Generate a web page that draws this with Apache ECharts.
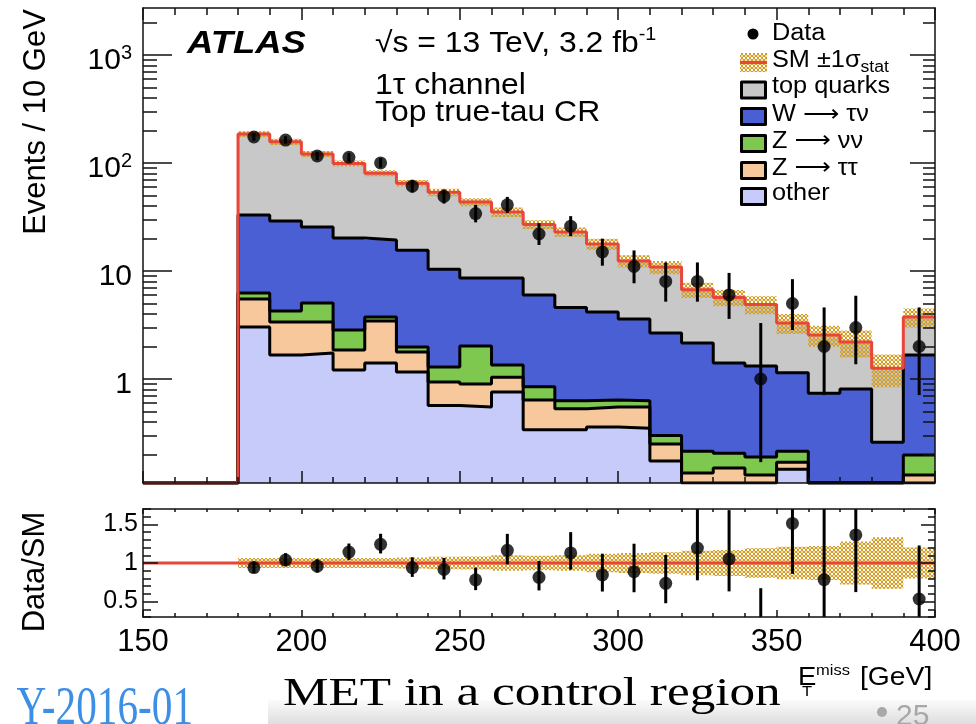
<!DOCTYPE html>
<html><head><meta charset="utf-8">
<script src="https://cdn.jsdelivr.net/npm/echarts@6/dist/echarts.min.js"></script>
<style>html,body{margin:0;padding:0;background:#fff}#c{width:976px;height:724px}</style>
</head><body><div id="c"></div>
<script>
// ---------------- data ----------------
const binLow = [180,190,200,210,220,230,240,250,260,270,280,290,300,310,320,330,340,350,360,370,380,390];
const BIN_W = 10;
const topQuarks = [152,128,95.5,78.8,61.1,49.4,43.1,34.9,26.6,21.0,18.4,13.6,8.8,8.2,4.55,4.29,3.58,2.16,1.81,1.39,1.00,2.08];
const wTauNu   = [26.75,24.74,20.44,17.36,15.65,13.62,9.11,6.58,7.25,5.15,3.97,3.53,2.97,2.37,1.94,1.20,1.13,0.93,0.74,0.81,0.26,1.47];
const zNuNu    = [0.75,0.89,1.69,0.98,0.31,0.20,0.35,1.12,0.31,0.21,0.10,0.09,0.08,0.05,0.08,0.056,0.061,0.045,0,0,0,0.069];
const zTauTau  = [2.47,1.70,1.63,0.65,2.03,0.62,0.37,0.35,0.28,0.30,0.19,0.19,0.20,0.076,0.075,0.10,0.059,0.024,0,0,0,0.069];
const other    = [3.03,1.67,1.74,1.21,1.41,1.16,0.57,0.55,0.76,0.34,0.34,0.36,0.35,0.174,0.06,0.05,0.07,0.146,0,0,0,0.06];
const dataCounts  = [174,163,116,113,100,61,49,34,41,22,26,15,11,8,8,6,1,5,2,3,0,2];
const dataErrLow  = [161,151,106,103,90.5,53.3,42.1,28.2,34.6,17.4,21.0,11.2,7.7,5.2,5.2,3.6,0.17,2.84,0.71,1.37,0,0.71];
const dataErrHigh = [188,177,127,124,111,69.8,57.0,40.9,48.5,27.7,32.2,19.9,15.5,12.0,12.0,9.6,3.3,8.4,4.6,5.9,0,4.6];
const statRel  = [0.065,0.065,0.065,0.065,0.065,0.07,0.08,0.085,0.10,0.095,0.10,0.12,0.13,0.14,0.16,0.17,0.19,0.21,0.22,0.28,0.335,0.20];

const yMainTicks = [1,10,100,1000];
const yMainMinor = [0.2,0.3,0.4,0.5,0.6,0.7,0.8,0.9,2,3,4,5,6,7,8,9,20,30,40,50,60,70,80,90,200,300,400,500,600,700,800,900,2000];
const ratioTicks = [0.5,1,1.5];
const ratioMinor = [0.3,0.4,0.5,0.6,0.7,0.8,0.9,1.0,1.1,1.2,1.3,1.4,1.5,1.6,1.7];

const Y_MIN = 0.109, Y_MAX = 2720;
const F = '"Liberation Sans", Arial, Helvetica, sans-serif';
const FS = '"Liberation Serif", "Times New Roman", serif';
const C = { top:'#c8c8c8', w:'#4a5fd4', znn:'#7ec850', ztt:'#f6c89c', other:'#c6cbfa', red:'#e9463a', hatch:'#d29e26' };

// ---------------- derived stacks ----------------
const n = binLow.length;
const cum = [];
let run = new Array(n).fill(0);
cum.push(run.slice());
[other, zTauTau, zNuNu, wTauNu, topQuarks].forEach(a => { run = run.map((v,i)=>v + a[i]); cum.push(run.slice()); });
const total = cum[5];

// hatch pattern (pixel cross-hatch, period 4 px)
const pc = document.createElement('canvas'); pc.width = 4; pc.height = 4;
const g = pc.getContext('2d');
g.fillStyle = C.hatch;
[[0,0],[1,1],[2,2],[3,3],[3,0],[2,1],[1,2],[0,3]].forEach(p => g.fillRect(p[0], p[1], 1, 1));
g.globalAlpha = 0.35;
[[1,0],[2,0],[1,3],[2,3]].forEach(p => g.fillRect(p[0], p[1], 1, 1));
const hatch = { image: pc, repeat: 'repeat' };

function bandSeries(lower, upper, fill, xi, yi, clampMin, z) {
  return { type:'custom', xAxisIndex:xi, yAxisIndex:yi, z, silent:true, clip:true, data:[[200, 1]],
    renderItem: (params, api) => {
      const pts = [];
      for (let i=0;i<n;i++) { const u = Math.max(upper[i], clampMin);
        pts.push(api.coord([binLow[i], u]), api.coord([binLow[i]+BIN_W, u])); }
      for (let i=n-1;i>=0;i--) { const l = Math.max(lower[i], clampMin);
        pts.push(api.coord([binLow[i]+BIN_W, l]), api.coord([binLow[i], l])); }
      return { type:'polygon', shape:{ points: pts }, style:{ fill: fill, stroke: null } };
    } };
}
function stepLine(values, color, width, z) {
  const pts = [[150, Y_MIN]];
  for (let i=0;i<n;i++) pts.push([binLow[i], Math.max(values[i], Y_MIN)]);
  pts.push([binLow[n-1]+BIN_W, Math.max(values[n-1], Y_MIN)]);
  return { type:'line', xAxisIndex:0, yAxisIndex:0, step:'end', symbol:'none', z, silent:true,
    data: pts, lineStyle:{ color, width }, animation:false };
}
function errBars(items, xi, yi, clampMin, z) {
  return { type:'custom', xAxisIndex:xi, yAxisIndex:yi, z, silent:true, clip:true, data: items,
    encode:{ x:0, y:[1,2] },
    renderItem: (params, api) => {
      const a = api.coord([api.value(0), Math.max(api.value(1), clampMin)]);
      const b = api.coord([api.value(0), api.value(2)]);
      return { type:'line', shape:{ x1:a[0], y1:a[1], x2:b[0], y2:b[1] }, style:{ stroke:'#000', lineWidth:3 } };
    } };
}

const mainPts = [], mainErr = [], ratioPts = [], ratioErr = [];
for (let i=0;i<n;i++) {
  if (dataCounts[i] <= 0) continue;
  const xc = binLow[i] + BIN_W/2;
  mainPts.push([xc, dataCounts[i]]);
  mainErr.push([xc, dataErrLow[i], dataErrHigh[i]]);
  ratioPts.push([xc, dataCounts[i]/total[i]]);
  ratioErr.push([xc, dataErrLow[i]/total[i], dataErrHigh[i]/total[i]]);
}

// ---------------- axes ----------------
const AX = { color:'#111', width:1.5 };
function xAx(grid, pos, maj, min, labels) {
  return { type:'value', gridIndex:grid, position:pos, min:150, max:400, interval:50, z:10,
    axisLine:{ show:true, onZero:false, lineStyle:AX },
    axisTick:{ show:true, inside:true, length:maj, lineStyle:AX },
    minorTick:{ show:true, splitNumber:5, length:min, lineStyle:AX },
    splitLine:{ show:false }, minorSplitLine:{ show:false },
    axisLabel: labels ? { show:true, fontSize:31, fontFamily:F, color:'#000', margin:10 } : { show:false } };
}
function logAx(pos, len, ticks, labels, line) {
  return { type:'log', logBase:10, gridIndex:0, position:pos, min:Y_MIN, max:Y_MAX, z:10,
    axisLine:{ show:line, onZero:false, lineStyle:AX },
    axisTick:{ show:true, inside:true, length:len, customValues:ticks, lineStyle:AX },
    splitLine:{ show:false },
    axisLabel: labels ? { show:true, customValues:ticks, margin:11, padding:[12,0,0,0],
      formatter: v => { const e = Math.round(Math.log10(v)); return e === 0 ? '{b|1}' : e === 1 ? '{b|10}' : '{b|10}{s|' + e + '}'; },
      rich:{ b:{ fontSize:30, fontFamily:F, color:'#000', lineHeight:34 }, s:{ fontSize:20, fontFamily:F, color:'#000', lineHeight:14, verticalAlign:'top' } } } : { show:false } };
}
function ratioAx(pos, len, ticks, labels, line) {
  return { type:'value', gridIndex:1, position:pos, min:0.3, max:1.7, z:10,
    axisLine:{ show:line, onZero:false, lineStyle:AX },
    axisTick:{ show:true, inside:true, length:len, customValues:ticks, lineStyle:AX },
    splitLine:{ show:false },
    axisLabel: labels ? { show:true, customValues:ticks, margin:5, fontSize:25, fontFamily:F, color:'#000',
      formatter: v => String(Math.round(v*10)/10) } : { show:false } };
}

// ---------------- graphics (texts, legend) ----------------
function T(x, y, text, size, o) {
  o = o || {};
  const st = { text, fontSize:size, fontFamily:o.family||F, fontWeight:o.weight||'normal', fontStyle:o.fstyle||'normal',
    fill:o.color||'#000', align:o.align||'left', verticalAlign:'middle', textAlign:o.align||'left', textVerticalAlign:'middle' };
  if (o.rich) st.rich = o.rich;
  return { type:'text', x, y, z:100, scaleX:o.sx||1, rotation:o.rot||0, silent:true, style:st };
}
const supRich = (base, sup) => ({
  n:{ fontSize:base, fontFamily:F, color:'#000', lineHeight:base+6 },
  a:{ fontSize:base, fontFamily:'"DejaVu Sans", sans-serif', color:'#000', lineHeight:base+6 },
  u:{ fontSize:sup, fontFamily:F, color:'#000', lineHeight:14, verticalAlign:'top' },
  d:{ fontSize:sup, fontFamily:F, color:'#000', lineHeight:8, verticalAlign:'bottom' } });
const legendBoxes = [
  ['{n|top quarks}', C.top, 90, 87], ['{n|W }{a|\u27f6}{n| \u03c4\u03bd}', C.w, 116.5, 115], ['{n|Z }{a|\u27f6}{n| \u03bd\u03bd}', C.znn, 143.5, 141.5],
  ['{n|Z }{a|\u27f6}{n| \u03c4\u03c4}', C.ztt, 170.5, 168.5], ['{n|other}', C.other, 196.5, 194]
];
const graphics = [
  { type:'rect', z:0, silent:true, shape:{ x:268, y:700, width:708, height:24 },
    style:{ fill:{ type:'linear', x:0, y:0, x2:0, y2:1, colorStops:[{offset:0,color:'#fbfbfb'},{offset:1,color:'#dedede'}] } } },
  T(187, 44, 'ATLAS', 32, { weight:'bold', fstyle:'italic', sx:1.14 }),
  T(375, 44, '{n|\u221as = 13 TeV, 3.2 fb}{u|-1}', 29, { sx:1.1, rich: supRich(29, 18) }),
  T(375, 86, '1\u03c4 channel', 29, { sx:1.1 }),
  T(375, 112.5, 'Top true-tau CR', 29, { sx:1.1 }),
  { type:'circle', z:100, silent:true, shape:{ cx:753, cy:34, r:5.5 }, style:{ fill:'#000' } },
  T(772, 34, 'Data', 23, { sx:1.1 }),
  { type:'rect', z:100, silent:true, shape:{ x:740, y:53, width:27, height:19 }, style:{ fill:hatch } },
  { type:'line', z:101, silent:true, shape:{ x1:740, y1:62.5, x2:767, y2:62.5 }, style:{ stroke:C.red, lineWidth:3 } },
  T(772, 61, '{n|SM \u00b11\u03c3}{d|stat}', 23, { sx:1.1, rich: supRich(23, 16) }),
  T(36, 122, 'Events / 10 GeV', 31, { rot:Math.PI/2, align:'center' }),
  T(35, 572, 'Data/SM', 31, { rot:Math.PI/2, align:'center' }),
  T(798, 678, 'E', 25, { sx:1.1 }),
  T(802, 692, 'T', 15, { sx:1.1 }),
  T(816, 671, 'miss', 15, { sx:1.1 }),
  T(860, 678, '[GeV]', 25, { sx:1.13 }),
  T(283, 694, 'MET in a control region', 40, { family:FS, sx:1.28 }),
  T(193, 710, 'Y-2016-01', 55, { family:FS, sx:0.75, align:'right', color:'#3d8fe6' }),
  { type:'circle', z:100, silent:true, shape:{ cx:882, cy:712, r:5 }, style:{ fill:'#a8a8a8' } },
  T(896, 717, '25', 30, { color:'#a8a8a8' })
];
legendBoxes.forEach(([label, col, cy, ty]) => {
  graphics.push({ type:'rect', z:100, silent:true, shape:{ x:741.5, y:cy-8, width:24, height:16 }, style:{ fill:col, stroke:'#000', lineWidth:3, lineJoin:'round' } });
  graphics.push(T(772, ty, label, 23, { sx:1.1, rich: supRich(23, 16) }));
});

// ---------------- chart ----------------
const chart = echarts.init(document.getElementById('c'), null, { renderer:'canvas' });
chart.setOption({
  animation:false,
  backgroundColor:'#fff',
  grid:[
    { left:143, top:8, width:792, height:475, containLabel:false, outerBoundsMode:'none' },
    { left:143, top:509, width:792, height:108, containLabel:false, outerBoundsMode:'none' }
  ],
  xAxis:[ xAx(0,'bottom',12,6,false), xAx(0,'top',12,7,false), xAx(1,'bottom',7,4,true), xAx(1,'top',5,3,false) ],
  yAxis:[
    logAx('left', 29, yMainTicks, true, true), logAx('left', 14, yMainMinor, false, false),
    logAx('right', 25, yMainTicks, false, true), logAx('right', 12, yMainMinor, false, false),
    ratioAx('left', 15, ratioTicks, true, true), ratioAx('left', 8, ratioMinor, false, false),
    ratioAx('right', 14, ratioTicks, false, true), ratioAx('right', 7, ratioMinor, false, false)
  ],
  series:[
    bandSeries(cum[0], cum[1], C.other, 0, 0, Y_MIN, 2),
    bandSeries(cum[1], cum[2], C.ztt, 0, 0, Y_MIN, 2),
    bandSeries(cum[2], cum[3], C.znn, 0, 0, Y_MIN, 2),
    bandSeries(cum[3], cum[4], C.w, 0, 0, Y_MIN, 2),
    bandSeries(cum[4], cum[5], C.top, 0, 0, Y_MIN, 2),
    bandSeries(total.map((t,i)=>t*(1-statRel[i])), total.map((t,i)=>t*(1+statRel[i])), hatch, 0, 0, Y_MIN, 3),
    stepLine(cum[1], '#000', 3, 4), stepLine(cum[2], '#000', 3, 4), stepLine(cum[3], '#000', 3, 4), stepLine(cum[4], '#000', 3, 4),
    stepLine(total, C.red, 3, 5),
    errBars(mainErr, 0, 0, Y_MIN, 6),
    { type:'scatter', xAxisIndex:0, yAxisIndex:0, z:7, silent:true, data:mainPts, symbol:'circle', symbolSize:13, itemStyle:{ color:'#000' } },
    bandSeries(statRel.map(r=>1-r), statRel.map(r=>1+r), hatch, 2, 4, 0.3, 3),
    { type:'line', xAxisIndex:2, yAxisIndex:4, z:5, silent:true, symbol:'none', data:[[150,1],[400,1]], lineStyle:{ color:C.red, width:3 } },
    errBars(ratioErr, 2, 4, 0.0, 6),
    { type:'scatter', xAxisIndex:2, yAxisIndex:4, z:7, silent:true, clip:true, data:ratioPts, symbol:'circle', symbolSize:13, itemStyle:{ color:'#000' } }
  ],
  graphic: graphics
});
</script></body></html>
